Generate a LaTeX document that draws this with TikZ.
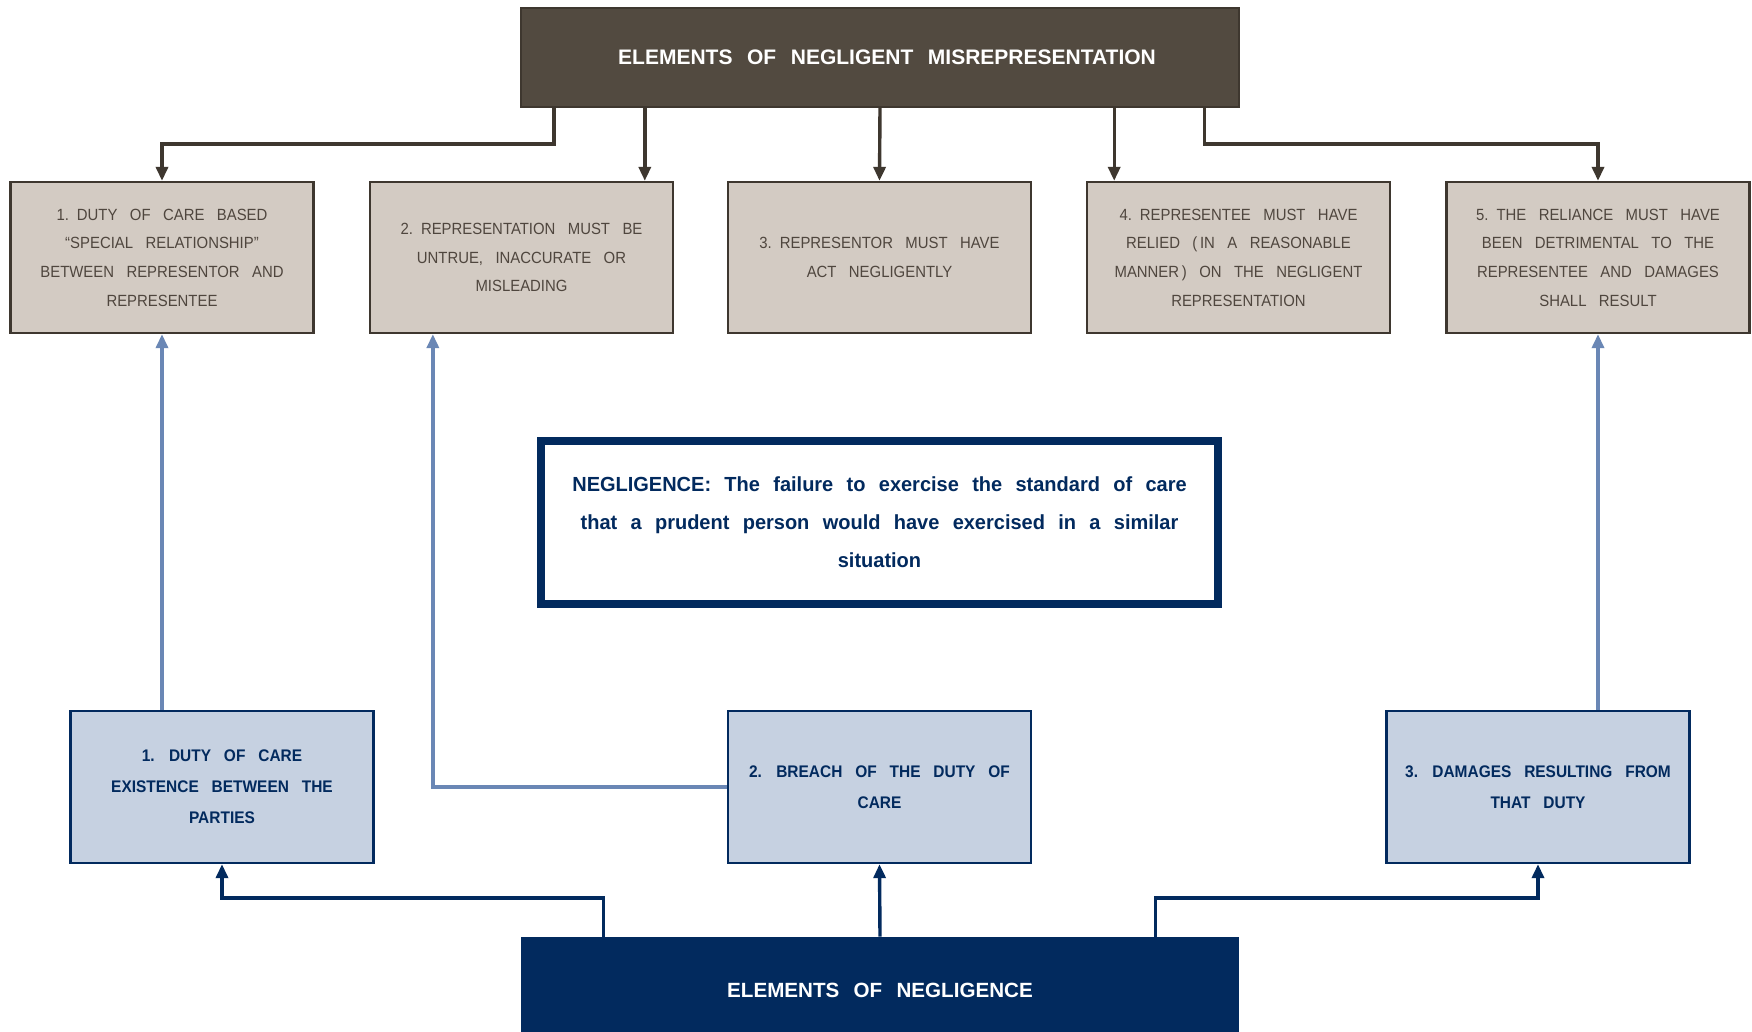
\documentclass[tikz,border=0pt]{standalone}
\usepackage{fontspec}
\setmainfont{Liberation Sans}
\newfontfamily\titlefont[WordSpace=2.5]{Liberation Sans}
\newfontfamily\rowfont[FakeStretch=0.92,WordSpace=3.5]{Liberation Sans}
\newfontfamily\bfont[FakeStretch=0.92,WordSpace=3]{Liberation Sans}
\newfontfamily\negfont[FakeStretch=0.98,WordSpace=2.4]{Liberation Sans}
\usetikzlibrary{arrows.meta,calc}
\definecolor{brownbox}{HTML}{524A40}
\definecolor{browndark}{HTML}{3E372F}
\definecolor{tanbox}{HTML}{D3CBC3}
\definecolor{tantext}{HTML}{4F463E}
\definecolor{navy}{HTML}{022A5E}
\definecolor{lightbox}{HTML}{C6D1E1}
\definecolor{lightline}{HTML}{6A87B5}
\newcommand{\numsp}{\kern4pt}
\tikzset{
  topbox/.style={fill=brownbox, draw=browndark, line width=1.2pt, text=white,
    font=\titlefont\bfseries\fontsize{10.5}{13}\selectfont, minimum width=359pt, minimum height=49.5pt, inner sep=0pt},
  tbox/.style={fill=tanbox, draw=browndark, line width=1.15pt, text=tantext, align=center,
    font=\rowfont\fontsize{8.1}{14.35}\selectfont, minimum width=151.5pt, minimum height=75.5pt, inner sep=0pt},
  bbox/.style={fill=lightbox, draw=navy, line width=1.15pt, text=navy, align=center,
    font=\bfont\bfseries\fontsize{8.4}{15.5}\selectfont, minimum width=151.5pt, minimum height=76pt, inner sep=0pt},
  negbox/.style={fill=white, draw=navy, line width=4pt, text=navy, align=center,
    font=\negfont\bfseries\fontsize{10.2}{19}\selectfont, minimum width=338.5pt, minimum height=81.5pt, inner sep=0pt},
  botbox/.style={fill=navy, draw=none, text=white,
    font=\titlefont\bfseries\fontsize{10.3}{13}\selectfont, minimum width=359pt, minimum height=53pt, inner sep=0pt},
  darr/.style={draw=browndark, line width=1.7pt, -{Triangle[length=7pt,width=6pt]}},
  narr/.style={draw=navy, line width=1.7pt, -{Triangle[length=7pt,width=6pt]}},
  larr/.style={draw=lightline, line width=1.7pt, -{Triangle[length=7pt,width=6pt]}},
}
\begin{document}
\begin{tikzpicture}[x=0.5pt,y=-0.5pt]
\useasboundingbox (0,0) rectangle (1752,1032);
\fill[white] (0,0) rectangle (1752,1032);
% top
\node[topbox] (top) at (880,57.5) {\hspace*{7pt}ELEMENTS OF NEGLIGENT MISREPRESENTATION};
\node[tbox] (t1) at (162,257.5) {1.\numsp DUTY OF CARE BASED\\“SPECIAL RELATIONSHIP”\\BETWEEN REPRESENTOR AND\\REPRESENTEE};
\node[tbox] (t2) at (521.5,257.5) {2.\numsp REPRESENTATION MUST BE\\UNTRUE, INACCURATE OR\\MISLEADING};
\node[tbox] (t3) at (879.5,257.5) {3.\numsp REPRESENTOR MUST HAVE\\ACT NEGLIGENTLY};
\node[tbox] (t4) at (1238.5,257.5) {4.\numsp REPRESENTEE MUST HAVE\\RELIED (\,IN A REASONABLE\\MANNER\,) ON THE NEGLIGENT\\REPRESENTATION};
\node[tbox] (t5) at (1598,257.5) {5.\numsp THE RELIANCE MUST HAVE\\BEEN DETRIMENTAL TO THE\\REPRESENTEE AND DAMAGES\\SHALL RESULT};
% negligence definition
\node[negbox] (neg) at (879.5,522.5) {NEGLIGENCE: The failure to exercise the standard of care\\that a prudent person would have exercised in a similar\\situation};
% bottom row
\node[bbox] (b1) at (222,787) {1. DUTY OF CARE\\EXISTENCE BETWEEN THE\\PARTIES};
\node[bbox] (b2) at (879.5,787) {2. BREACH OF THE DUTY OF\\CARE};
\node[bbox] (b3) at (1538,787) {3. DAMAGES RESULTING FROM\\THAT DUTY};
\node[botbox] (bot) at (880,990) {ELEMENTS OF NEGLIGENCE};
% top connectors
\coordinate (a1) at ([xshift=17pt]top.south west);
\coordinate (a2) at ([xshift=62.5pt]top.south west);
\coordinate (a4) at ([xshift=-63pt]top.south east);
\coordinate (a5) at ([xshift=-18pt]top.south east);
\draw[darr] (a1) |- ([yshift=18.5pt]t1.north) -- (t1.north);
\draw[darr] (a2) -- (a2 |- t2.north);
\draw[darr] (top.south) -- (t3.north);
\draw[darr] (a4) -- (a4 |- t4.north);
\draw[darr] (a5) |- ([yshift=18.5pt]t5.north) -- (t5.north);
% bottom connectors
\coordinate (c1) at ([xshift=41.5pt]bot.north west);
\coordinate (c3) at ([xshift=-42pt]bot.north east);
\draw[narr] (c1) |- ([yshift=-17pt]b1.south) -- (b1.south);
\draw[narr] (bot.north) -- (b2.south);
\draw[narr] (c3) |- ([yshift=-17pt]b3.south) -- (b3.south);
% light connectors
\coordinate (l2) at ([xshift=32pt]t2.south west);
\draw[larr] (t1.south |- b1.north) -- (t1.south);
\draw[larr] (b2.west) -| (l2);
\draw[larr] (t5.south |- b3.north) -- (t5.south);
\end{tikzpicture}
\end{document}
